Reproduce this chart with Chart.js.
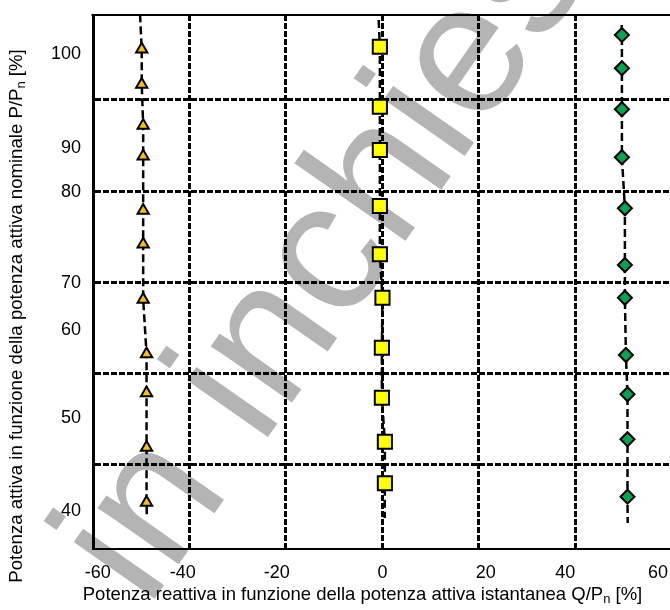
<!DOCTYPE html>
<html>
<head>
<meta charset="utf-8">
<script src="https://cdn.jsdelivr.net/npm/chart.js@4/dist/chart.umd.min.js"></script>
<style>
  html, body { margin: 0; padding: 0; background: #fff; overflow: hidden; }
  #wrap { position: relative; width: 670px; height: 610px; }
</style>
</head>
<body>
<div id="wrap"><canvas id="c"></canvas></div>
<script>
// Axis tick labels and where they sit on each axis
const xTickLabels = ['-60', '-40', '-20', '0', '20', '40', '60'];
const xTickPos = [-59, -41.4, -21.9, 0, 21.4, 37.9, 57.1];
const yTickLabels = ['100', '90', '80', '70', '60', '50', '40'];
const yTickPos = [95.05, 84.68, 79.9, 69.86, 64.75, 55.04, 44.83];

// Grid line values
const xGrid = [-40, -20, 0, 20, 40];
const yGrid = [50, 60, 70, 80, 90];

// Series: Q/Pn [%] (x) against P/Pn [%] (y)
const triQ = [-49.9, -49.9, -49.6, -49.6, -49.6, -49.6, -49.6, -48.9, -48.9, -48.9, -48.9];
const triP = [95.56, 91.71, 87.21, 83.81, 77.88, 74.15, 68.11, 62.11, 57.82, 51.86, 45.82];
const sqQ  = [-0.54, -0.54, -0.54, -0.54, -0.54, 0, -0.12, -0.12, 0.5, 0.5];
const sqP  = [95.85, 89.26, 84.51, 78.36, 73.06, 68.29, 62.80, 57.31, 52.48, 47.92];
const dmQ  = [49.63, 49.63, 49.63, 49.63, 50.25, 50.25, 50.25, 50.46, 50.79, 50.79, 50.79];
const dmP  = [97.14, 93.48, 88.98, 83.71, 78.11, 71.88, 68.29, 62.00, 57.69, 52.75, 46.45];

// Ends of the dashed guide through each series (top, bottom)
const triEndsQ = [-50.25, -48.84], triEndsP = [99.4, 44.22];
const sqEndsQ  = [-0.79, 0.46],    sqEndsP  = [98.78, 44.11];
const dmEndsQ  = [49.59, 50.83],   dmEndsP  = [98.23, 43.56];

const X_MIN = -60, X_MAX = 59.6;
const Y_MIN = 40.76, Y_MAX = 99.33;

const pts = (xs, ys) => xs.map((x, i) => ({ x, y: ys[i] }));
const guide = (xs, ys, ex, ey) => [{ x: ex[0], y: ey[0] }, ...pts(xs, ys), { x: ex[1], y: ey[1] }];

const tickFont = { family: '"Liberation Sans", Arial, sans-serif', size: 18 };

const markerBase = { showLine: false, borderColor: '#000', borderWidth: 2, xAxisID: 'x', yAxisID: 'y' };
const guideBase = {
  showLine: true, borderColor: '#000', borderWidth: 2.5, borderDash: [8, 4],
  pointRadius: 0, fill: false, tension: 0, xAxisID: 'x', yAxisID: 'y'
};

// Watermark, frame top edge and axis titles (with subscript n)
const decor = {
  id: 'decor',
  beforeDraw(chart) {
    const ctx = chart.ctx;
    ctx.save();
    ctx.fillStyle = '#fff';
    ctx.fillRect(0, 0, chart.width, chart.height);
    ctx.translate(147.5, 609);
    ctx.rotate(-55 * Math.PI / 180);
    ctx.font = '187px "Liberation Sans", Arial, sans-serif';
    ctx.fillStyle = '#b4b4b4';
    ctx.textBaseline = 'alphabetic';
    ctx.fillText('in inchiesta', 0, 0);
    ctx.restore();
  },
  afterDraw(chart) {
    const ctx = chart.ctx;
    const a = chart.chartArea;
    ctx.save();
    ctx.strokeStyle = '#000';
    ctx.lineWidth = 2;
    ctx.beginPath();
    ctx.moveTo(a.left - 1.5, a.top);
    ctx.lineTo(a.right, a.top);
    ctx.stroke();

    const drawTitle = (parts, cx, cy, rot, size) => {
      const main = size + 'px "Liberation Sans", Arial, sans-serif';
      const sub = Math.round(size * 0.7) + 'px "Liberation Sans", Arial, sans-serif';
      ctx.save();
      ctx.translate(cx, cy);
      ctx.rotate(rot);
      ctx.fillStyle = '#000';
      ctx.textBaseline = 'alphabetic';
      ctx.textAlign = 'left';
      let total = 0;
      parts.forEach(p => { ctx.font = p.sub ? sub : main; total += ctx.measureText(p.t).width; });
      let x = -total / 2;
      parts.forEach(p => {
        ctx.font = p.sub ? sub : main;
        ctx.fillText(p.t, x, p.sub ? 9 : 6);
        x += ctx.measureText(p.t).width;
      });
      ctx.restore();
    };
    drawTitle([
      { t: 'Potenza reattiva in funzione della potenza attiva istantanea Q/P' },
      { t: 'n', sub: true },
      { t: ' [%]' }
    ], 362.5, 594, 0, 18.5);
    drawTitle([
      { t: 'Potenza attiva in funzione della potenza attiva nominale P/P' },
      { t: 'n', sub: true },
      { t: ' [%]' }
    ], 16, 316, -Math.PI / 2, 18.6);
    ctx.restore();
  }
};

new Chart(document.getElementById('c'), {
  type: 'scatter',
  data: {
    datasets: [
      { ...markerBase, data: pts(triQ, triP), pointStyle: 'triangle', pointRadius: 6.5, backgroundColor: '#ffc000' },
      { ...markerBase, data: pts(sqQ, sqP), pointStyle: 'rect', pointRadius: 10, backgroundColor: '#ffff00' },
      { ...markerBase, data: pts(dmQ, dmP), pointStyle: 'rectRot', pointRadius: 7, backgroundColor: '#00a651' },
      { ...guideBase, data: guide(triQ, triP, triEndsQ, triEndsP) },
      { ...guideBase, data: guide(sqQ, sqP, sqEndsQ, sqEndsP) },
      { ...guideBase, data: guide(dmQ, dmP, dmEndsQ, dmEndsP) }
    ]
  },
  options: {
    responsive: true,
    maintainAspectRatio: false,
    animation: false,
    devicePixelRatio: 1,
    layout: { autoPadding: false, padding: { left: 0, right: 0, top: 15, bottom: 0 } },
    plugins: { legend: { display: false }, tooltip: { enabled: false } },
    scales: {
      x: {
        type: 'linear', position: 'bottom', min: X_MIN, max: X_MAX, weight: 0,
        afterBuildTicks: s => { s.ticks = xGrid.map(v => ({ value: v })); },
        ticks: { display: false },
        grid: { color: '#000', lineWidth: 3, drawTicks: false },
        border: { display: true, color: '#000', width: 2, dash: [6, 2] },
        afterFit: s => { s.height = 0; s.paddingLeft = 0; s.paddingRight = 0; }
      },
      xl: {
        type: 'linear', position: 'bottom', min: X_MIN, max: X_MAX, weight: 1,
        afterBuildTicks: s => { s.ticks = xTickPos.map(v => ({ value: v })); },
        ticks: {
          callback: (v, i) => xTickLabels[i], font: tickFont, color: '#000',
          padding: 14, maxRotation: 0, autoSkip: false
        },
        grid: { display: false, drawTicks: false },
        border: { display: false },
        afterFit: s => { s.height = 61.5; s.paddingLeft = 0; s.paddingRight = 0; }
      },
      y: {
        type: 'linear', position: 'left', min: Y_MIN, max: Y_MAX, weight: 0,
        afterBuildTicks: s => { s.ticks = yGrid.map(v => ({ value: v })); },
        ticks: { display: false },
        grid: { color: '#000', lineWidth: 3, drawTicks: false },
        border: { display: true, color: '#000', width: 3, dash: [6, 2] },
        afterFit: s => { s.width = 0; s.paddingTop = 0; s.paddingBottom = 0; }
      },
      yl: {
        type: 'linear', position: 'left', min: Y_MIN, max: Y_MAX, weight: 1,
        afterBuildTicks: s => { s.ticks = yTickPos.map(v => ({ value: v })); },
        ticks: {
          callback: (v, i) => yTickLabels[i], font: tickFont, color: '#000',
          padding: 12, autoSkip: false
        },
        grid: { display: false, drawTicks: false },
        border: { display: false },
        afterFit: s => { s.width = 93; s.paddingTop = 0; s.paddingBottom = 0; }
      }
    }
  },
  plugins: [decor]
});
</script>
</body>
</html>
